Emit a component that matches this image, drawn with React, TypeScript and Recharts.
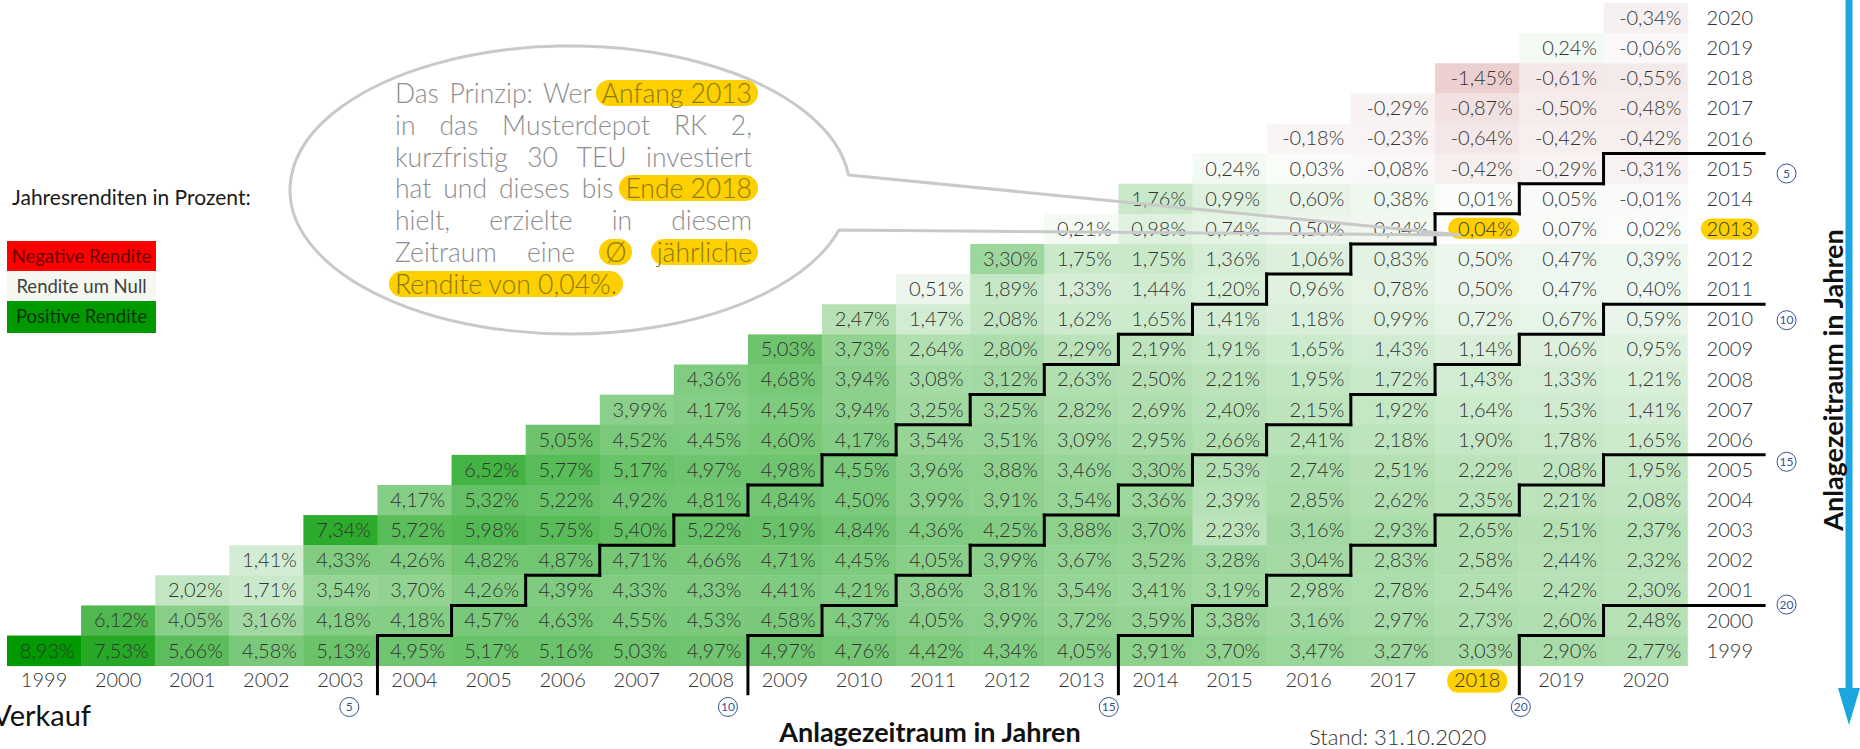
import React from 'react';
import { ComposedChart, Bar, XAxis, YAxis, ReferenceLine, ReferenceDot } from 'recharts';

// Verkaufsjahre (Spalten) und Anlagejahre (Zeilen, oben = 2020)
const sellYears = [1999, 2000, 2001, 2002, 2003, 2004, 2005, 2006, 2007, 2008, 2009, 2010, 2011, 2012, 2013, 2014, 2015, 2016, 2017, 2018, 2019, 2020];
const buyYears = [2020, 2019, 2018, 2017, 2016, 2015, 2014, 2013, 2012, 2011, 2010, 2009, 2008, 2007, 2006, 2005, 2004, 2003, 2002, 2001, 2000, 1999];
const periodMarks = [5, 10, 15, 20];

// Ø jährliche Rendite in %, je Anlagejahr, ab Verkaufsjahr = Anlagejahr
const r1999 = [8.93, 7.53, 5.66, 4.58, 5.13, 4.95, 5.17, 5.16, 5.03, 4.97, 4.97, 4.76, 4.42, 4.34, 4.05, 3.91, 3.70, 3.47, 3.27, 3.03, 2.90, 2.77];
const r2000 = [6.12, 4.05, 3.16, 4.18, 4.18, 4.57, 4.63, 4.55, 4.53, 4.58, 4.37, 4.05, 3.99, 3.72, 3.59, 3.38, 3.16, 2.97, 2.73, 2.60, 2.48];
const r2001 = [2.02, 1.71, 3.54, 3.70, 4.26, 4.39, 4.33, 4.33, 4.41, 4.21, 3.86, 3.81, 3.54, 3.41, 3.19, 2.98, 2.78, 2.54, 2.42, 2.30];
const r2002 = [1.41, 4.33, 4.26, 4.82, 4.87, 4.71, 4.66, 4.71, 4.45, 4.05, 3.99, 3.67, 3.52, 3.28, 3.04, 2.83, 2.58, 2.44, 2.32];
const r2003 = [7.34, 5.72, 5.98, 5.75, 5.40, 5.22, 5.19, 4.84, 4.36, 4.25, 3.88, 3.70, 2.23, 3.16, 2.93, 2.65, 2.51, 2.37];
const r2004 = [4.17, 5.32, 5.22, 4.92, 4.81, 4.84, 4.50, 3.99, 3.91, 3.54, 3.36, 2.39, 2.85, 2.62, 2.35, 2.21, 2.08];
const r2005 = [6.52, 5.77, 5.17, 4.97, 4.98, 4.55, 3.96, 3.88, 3.46, 3.30, 2.53, 2.74, 2.51, 2.22, 2.08, 1.95];
const r2006 = [5.05, 4.52, 4.45, 4.60, 4.17, 3.54, 3.51, 3.09, 2.95, 2.66, 2.41, 2.18, 1.90, 1.78, 1.65];
const r2007 = [3.99, 4.17, 4.45, 3.94, 3.25, 3.25, 2.82, 2.69, 2.40, 2.15, 1.92, 1.64, 1.53, 1.41];
const r2008 = [4.36, 4.68, 3.94, 3.08, 3.12, 2.63, 2.50, 2.21, 1.95, 1.72, 1.43, 1.33, 1.21];
const r2009 = [5.03, 3.73, 2.64, 2.80, 2.29, 2.19, 1.91, 1.65, 1.43, 1.14, 1.06, 0.95];
const r2010 = [2.47, 1.47, 2.08, 1.62, 1.65, 1.41, 1.18, 0.99, 0.72, 0.67, 0.59];
const r2011 = [0.51, 1.89, 1.33, 1.44, 1.20, 0.96, 0.78, 0.50, 0.47, 0.40];
const r2012 = [3.30, 1.75, 1.75, 1.36, 1.06, 0.83, 0.50, 0.47, 0.39];
const r2013 = [0.21, 0.98, 0.74, 0.50, 0.34, 0.04, 0.07, 0.02];
const r2014 = [1.76, 0.99, 0.60, 0.38, 0.01, 0.05, -0.01];
const r2015 = [0.24, 0.03, -0.08, -0.42, -0.29, -0.31];
const r2016 = [-0.18, -0.23, -0.64, -0.42, -0.42];
const r2017 = [-0.29, -0.87, -0.50, -0.48];
const r2018 = [-1.45, -0.61, -0.55];
const r2019 = [0.24, -0.06];
const r2020 = [-0.34];

const returnsByBuy: Record<number, number[]> = {
  1999: r1999, 2000: r2000, 2001: r2001, 2002: r2002, 2003: r2003, 2004: r2004,
  2005: r2005, 2006: r2006, 2007: r2007, 2008: r2008, 2009: r2009, 2010: r2010,
  2011: r2011, 2012: r2012, 2013: r2013, 2014: r2014, 2015: r2015, 2016: r2016,
  2017: r2017, 2018: r2018, 2019: r2019, 2020: r2020,
};

const highlightBuy = 2013;
const highlightSell = 2018;

const FONT = "Lato, 'Noto Sans', sans-serif";
const GOLD = '#FFD000';
const TEXT = '#333333';
const MARK = '#33558f';
const WIDE = 1.137; // die letzten Spalten sind etwas breiter
const TAIL_DOWN = 0.93;
const TAIL_RIGHT = 1.03;
const bottomDx = [-0.38, -0.27, -0.13, 0.02];
const rightDy = [0.66, 0.53, 0.23, -0.03];

const colUnits = (s: number) => (s >= 2016 ? WIDE : 1);
const colStart = (s: number) => sellYears.filter((y) => y < s).reduce((a, y) => a + colUnits(y), 0);
const colCenter = (s: number) => colStart(s) + colUnits(s) / 2;
const totalUnits = colStart(2021);

const getReturn = (buy: number, sell: number) => {
  const row = returnsByBuy[buy];
  const i = sell - buy;
  return i >= 0 && i < row.length ? row[i] : null;
};

const fmt = (v: number) => `${v.toFixed(2).replace('.', ',')}%`;

function cellColor(v: number) {
  if (v >= 0) {
    const t = Math.min(v / 8.93, 1);
    return `rgb(${Math.round(250 - 250 * t)},${Math.round(252 - 99 * t)},${Math.round(250 - 250 * t)})`;
  }
  const t = Math.min(-v / 1.45, 1);
  return `rgb(${Math.round(251 - 15 * t)},${Math.round(250 - 42 * t)},${Math.round(250 - 42 * t)})`;
}

const tableData = buyYears.map((b) => {
  const row: any = { label: String(b), buy: b, slot: b - 1999 + 0.5 };
  sellYears.forEach((s) => {
    row[`s${s}`] = colUnits(s);
  });
  return row;
});

const makeCell = (sell: number) => (props: any) => {
  const { x, y, width, height, payload } = props;
  const v = getReturn(payload.buy, sell);
  if (v === null) return <g />;
  const hl = payload.buy === highlightBuy && sell === highlightSell;
  return (
    <g>
      <rect x={x} y={y} width={width + 0.5} height={height + 0.5} fill={hl ? '#fcfdfc' : cellColor(v)} />
      {hl && <rect x={x + 13} y={y + 4} width={width - 13} height={height - 9} rx={10.5} fill={GOLD} />}
      <text x={x + width - 6.5} y={y + height / 2 + 7} textAnchor="end" fontFamily={FONT} fontSize={20} fontWeight={300} fill={TEXT}>
        {fmt(v)}
      </text>
    </g>
  );
};

const XTick = (props: any) => {
  const { x, y, payload } = props;
  const year = sellYears.find((s) => Math.abs(colCenter(s) - payload.value) < 1e-6);
  const hl = year === highlightSell;
  return (
    <g>
      {hl && <rect x={x - 30} y={y + 3.5} width={60} height={23.5} rx={11} fill={GOLD} />}
      <text x={x} y={y + 21.6} textAnchor="middle" fontFamily={FONT} fontSize={20} fontWeight={300} fill={TEXT}>
        {year}
      </text>
    </g>
  );
};

const RowTick = (props: any) => {
  const { x, y, payload } = props;
  const hl = payload.value === String(highlightBuy);
  return (
    <g>
      {hl && <rect x={x + 13} y={y - 10.5} width={58} height={21} rx={10.5} fill={GOLD} />}
      <text x={x + 42} y={y + 7} textAnchor="middle" fontFamily={FONT} fontSize={20} fontWeight={300} fill={TEXT}>
        {payload.value}
      </text>
    </g>
  );
};

// Treppenlinie: trennt Haltedauer <= L Jahre von > L Jahren
const stairSegments = (L: number) => {
  const segs: { x: number; y: number }[][] = [];
  for (let s = 1999 + L; s <= 2020; s++) {
    const top = s - L - 1999 + 1;
    const x0 = colStart(s);
    const x1 = colStart(s + 1);
    segs.push([{ x: x0, y: s === 1999 + L ? -TAIL_DOWN : top - 1 }, { x: x0, y: top }]);
    segs.push([{ x: x0, y: top }, { x: s === 2020 ? x1 + TAIL_RIGHT : x1, y: top }]);
  }
  return segs;
};

const calloutLines: { t: string; hl?: boolean }[][] = [
  [{ t: 'Das Prinzip: Wer ' }, { t: 'Anfang 2013', hl: true }],
  [{ t: 'in das Musterdepot RK 2,' }],
  [{ t: 'kurzfristig 30 TEU investiert' }],
  [{ t: 'hat und dieses bis ' }, { t: 'Ende 2018', hl: true }],
  [{ t: 'hielt, erzielte in diesem' }],
  [{ t: 'Zeitraum eine ' }, { t: 'Ø', hl: true }, { t: ' ' }, { t: 'jährliche', hl: true }],
  [{ t: 'Rendite von 0,04%.', hl: true }],
];

const abs = (s: React.CSSProperties): React.CSSProperties => ({ position: 'absolute', ...s });

export default function App() {
  return (
    <div style={abs({ left: 0, top: 0, width: 1860, height: 749, background: '#fff', overflow: 'hidden', fontFamily: FONT })}>
      <div style={abs({ left: 0, top: 0 })}>
        <ComposedChart
          layout="vertical"
          width={1860}
          height={749}
          data={tableData}
          margin={{ top: 3, right: 88.2, bottom: 53.3, left: 7 }}
          barCategoryGap={0}
          barGap={0}
        >
          <XAxis
            type="number"
            domain={[0, totalUnits]}
            allowDataOverflow
            ticks={sellYears.map(colCenter)}
            interval={0}
            axisLine={false}
            tickLine={false}
            tickSize={0}
            tickMargin={0}
            height={30}
            tick={XTick}
          />
          <YAxis
            yAxisId="rows"
            type="category"
            dataKey="label"
            orientation="right"
            width={84}
            interval={0}
            axisLine={false}
            tickLine={false}
            tickSize={0}
            tickMargin={0}
            tick={RowTick}
          />
          <YAxis yAxisId="num" type="number" dataKey="slot" domain={[0, buyYears.length]} allowDataOverflow reversed hide />
          {sellYears.map((s) => (
            <Bar key={s} dataKey={`s${s}`} stackId="grid" yAxisId="rows" isAnimationActive={false} shape={makeCell(s)} />
          ))}
          {periodMarks.flatMap((L) =>
            stairSegments(L).map((seg, i) => (
              <ReferenceLine
                key={`l${L}-${i}`}
                yAxisId="num"
                segment={seg}
                stroke="#000"
                strokeWidth={3}
                strokeLinecap="square"
                ifOverflow="visible"
              />
            ))
          )}
          {periodMarks.map((L, i) => (
            <ReferenceDot
              key={`b${L}`}
              yAxisId="num"
              x={colStart(1999 + L) + bottomDx[i]}
              y={-1.37}
              r={9.5}
              fill="#fff"
              stroke={MARK}
              strokeWidth={1}
              ifOverflow="visible"
              label={{ value: String(L), position: 'center', fill: MARK, fontSize: 12, fontFamily: FONT }}
            />
          ))}
          {periodMarks.map((L, i) => (
            <ReferenceDot
              key={`r${L}`}
              yAxisId="num"
              x={totalUnits + 1.333}
              y={2020 - L - 1999 + 1 - rightDy[i]}
              r={9.5}
              fill="#fff"
              stroke={MARK}
              strokeWidth={1}
              ifOverflow="visible"
              label={{ value: String(L), position: 'center', fill: MARK, fontSize: 12, fontFamily: FONT }}
            />
          ))}
        </ComposedChart>
      </div>

      <svg width={1860} height={749} style={abs({ left: 0, top: 0, pointerEvents: 'none' })}>
        <path d="M 848.5 175 A 280 144 0 1 0 839 230 L 1460 235 Z" fill="none" stroke="#c9c9c9" strokeWidth={3} strokeLinejoin="round" />
        <line x1={1849} y1={0} x2={1849} y2={692} stroke="#1ba6df" strokeWidth={7} />
        <polygon points="1838,688 1860,688 1849,725" fill="#1ba6df" />
        <text
          x={1832}
          y={380}
          transform="rotate(-90 1832 380)"
          textAnchor="middle"
          dominantBaseline="central"
          fontFamily={FONT}
          fontWeight={700}
          fontSize={27}
          fill="#111"
        >
          Anlagezeitraum in Jahren
        </text>
      </svg>

      <div style={abs({ left: 395, top: 78, width: 357, fontSize: 26.5, lineHeight: '31.8px', color: '#8d8d8d', fontWeight: 300 })}>
        {calloutLines.map((line, i) => (
          <div key={i} style={{ textAlign: 'justify', textAlignLast: i < calloutLines.length - 1 ? 'justify' : 'left', whiteSpace: 'pre-wrap' }}>
            {line.map((p, j) =>
              p.hl ? (
                <span
                  key={j}
                  style={{
                    display: 'inline-block',
                    background: GOLD,
                    color: '#8a7812',
                    borderRadius: 13,
                    padding: '0 6px',
                    margin: '0 -6px',
                    lineHeight: '26px',
                    whiteSpace: 'nowrap',
                  }}
                >
                  {p.t}
                </span>
              ) : (
                <span key={j}>{p.t}</span>
              )
            )}
          </div>
        ))}
      </div>

      <div style={abs({ left: 12, top: 185.5, fontSize: 21, lineHeight: '22px', color: '#1a1a1a' })}>Jahresrenditen in Prozent:</div>
      <div style={abs({ left: 7, top: 241, width: 149, height: 30, background: '#ff0000', color: '#6b0000', fontSize: 18.5, lineHeight: '30px', textAlign: 'center' })}>
        Negative Rendite
      </div>
      <div style={abs({ left: 7, top: 271, width: 149, height: 30, background: '#f5f8f0', color: '#404040', fontSize: 18.5, lineHeight: '30px', textAlign: 'center' })}>
        Rendite um Null
      </div>
      <div style={abs({ left: 7, top: 301, width: 149, height: 31.7, background: '#009900', color: '#003300', fontSize: 18.5, lineHeight: '31px', textAlign: 'center' })}>
        Positive Rendite
      </div>

      <div style={abs({ right: 1860 - 91, top: 700, fontSize: 29, lineHeight: '29px', color: '#111', whiteSpace: 'nowrap' })}>Verkauf</div>
      <div style={abs({ left: 730, width: 400, top: 718, textAlign: 'center', fontSize: 27, lineHeight: '28px', fontWeight: 700, color: '#111' })}>
        Anlagezeitraum in Jahren
      </div>
      <div style={abs({ left: 1309, top: 725, fontSize: 22, lineHeight: '23px', fontWeight: 300, color: '#333' })}>Stand: 31.10.2020</div>
    </div>
  );
}
